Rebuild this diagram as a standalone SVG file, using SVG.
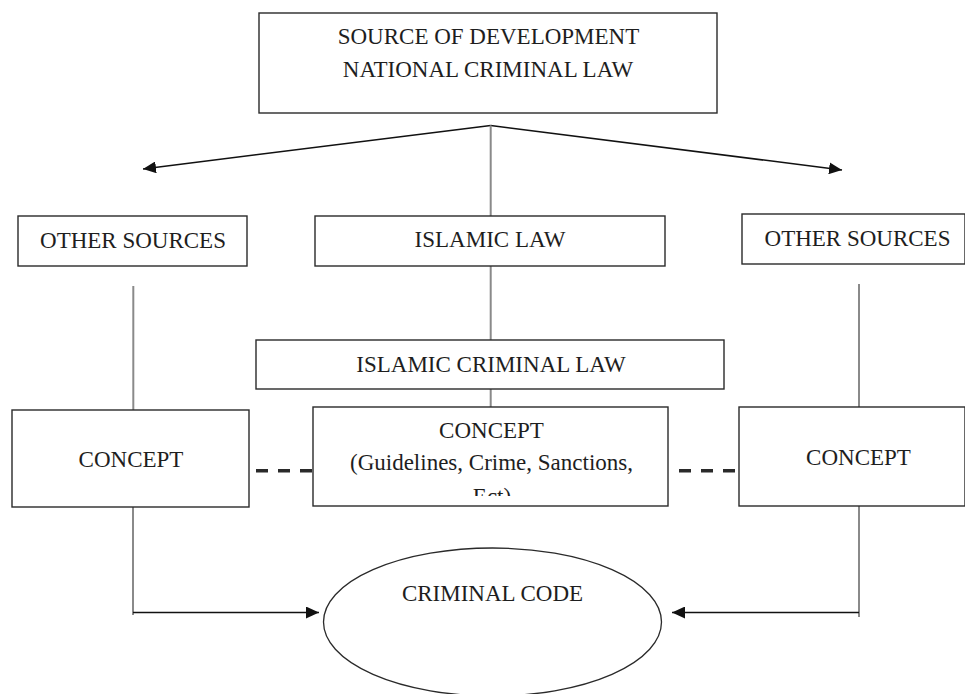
<svg xmlns="http://www.w3.org/2000/svg" width="965" height="694" viewBox="0 0 965 694">
<style>
.box{fill:#fff;stroke:#2a2a2a;stroke-width:1.4}
text{font-family:'Liberation Serif','DejaVu Serif',serif;font-size:23px;fill:#1e1e1e;text-anchor:middle}
.gray{stroke:#8a8a8a;stroke-width:2;fill:none}
.blk{stroke:#111;stroke-width:1.5;fill:none}
.dash{stroke:#2a2a2a;stroke-width:3.5;stroke-dasharray:12 10;fill:none}
</style>
<defs>
<marker id="ah" markerUnits="userSpaceOnUse" markerWidth="14" markerHeight="12" refX="13" refY="6" orient="auto">
<path d="M0,0 L13,6 L0,12 z" fill="#111"/>
</marker>
<clipPath id="cc"><rect x="313" y="407" width="355" height="89"/></clipPath>
</defs>
<rect width="965" height="694" fill="#fff"/>
<g id="connectors">
<line class="blk" x1="490.7" y1="125.5" x2="143" y2="169" marker-end="url(#ah)"/>
<line class="blk" x1="490.7" y1="125.5" x2="842" y2="170" marker-end="url(#ah)"/>
<line class="gray" x1="490.7" y1="125.5" x2="490.7" y2="216"/>
<line class="gray" x1="490.7" y1="266" x2="490.7" y2="340"/>
<line class="gray" x1="490.7" y1="389" x2="490.7" y2="407"/>
<line class="gray" x1="133.3" y1="286" x2="133.3" y2="410"/>
<line class="gray" x1="859" y1="284" x2="859" y2="407"/>
<line class="gray" x1="133" y1="507" x2="133" y2="615"/>
<line class="gray" x1="859" y1="506" x2="859" y2="617"/>
<line class="blk" x1="133" y1="612.5" x2="319" y2="612.5" marker-end="url(#ah)"/>
<line class="blk" x1="859" y1="612.5" x2="672" y2="612.5" marker-end="url(#ah)"/>
<line class="dash" x1="256" y1="470.7" x2="313" y2="470.7"/>
<line class="dash" x1="679" y1="470.7" x2="739" y2="470.7"/>
</g>
<g id="source">
<rect class="box" x="259" y="13" width="458" height="100"/>
<text x="488.5" y="44" font-family="Liberation Serif, serif">SOURCE OF DEVELOPMENT</text>
<text x="488" y="77" font-family="Liberation Serif, serif">NATIONAL CRIMINAL LAW</text>
</g>
<g id="other-left">
<rect class="box" x="18" y="216" width="229" height="50"/>
<text x="133" y="247.5" font-family="Liberation Serif, serif">OTHER SOURCES</text>
</g>
<g id="islamic-law">
<rect class="box" x="315" y="216" width="350" height="50"/>
<text x="490" y="247" font-family="Liberation Serif, serif">ISLAMIC LAW</text>
</g>
<g id="other-right">
<rect class="box" x="742" y="214" width="223" height="50"/>
<text x="857.5" y="245.5" font-family="Liberation Serif, serif">OTHER SOURCES</text>
</g>
<g id="islamic-criminal-law">
<rect class="box" x="256" y="340" width="468" height="49"/>
<text x="491" y="371.5" font-family="Liberation Serif, serif">ISLAMIC CRIMINAL LAW</text>
</g>
<g id="concept-left">
<rect class="box" x="12" y="410" width="237" height="97"/>
<text x="131" y="467" font-family="Liberation Serif, serif">CONCEPT</text>
</g>
<g id="concept-center">
<rect class="box" x="313" y="407" width="355" height="99"/>
<text x="491.5" y="437.5" font-family="Liberation Serif, serif">CONCEPT</text>
<text x="491.5" y="469.5" font-family="Liberation Serif, serif">(Guidelines, Crime, Sanctions,</text>
<text x="492" y="504" font-family="Liberation Serif, serif" clip-path="url(#cc)">Ect)</text>
</g>
<g id="concept-right">
<rect class="box" x="739" y="407" width="226" height="99"/>
<text x="858.5" y="465" font-family="Liberation Serif, serif">CONCEPT</text>
</g>
<g id="criminal-code">
<ellipse cx="492.5" cy="622" rx="169" ry="74" fill="#fff" stroke="#2a2a2a" stroke-width="1.3"/>
<text x="492.5" y="600.5" font-family="Liberation Serif, serif">CRIMINAL CODE</text>
</g>
</svg>
